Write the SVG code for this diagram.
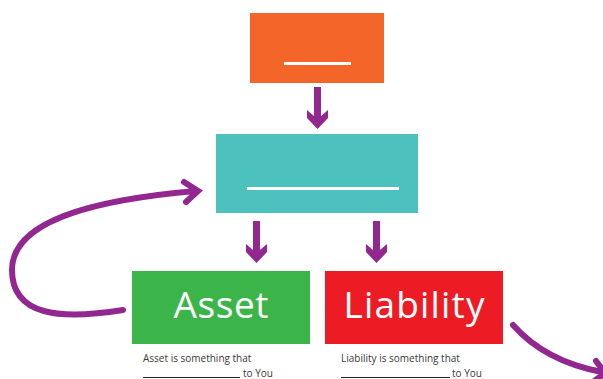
<svg xmlns="http://www.w3.org/2000/svg" width="603" height="379" viewBox="0 0 603 379">
<style>
.box-label{font-family:"Open Sans","Noto Sans",sans-serif;font-size:37px;fill:#ffffff;text-anchor:middle}
.note{font-family:"Open Sans","Noto Sans",sans-serif;font-size:10px;fill:#3a3a3a}
.blank{stroke:#ffffff;stroke-width:3}
.uline{stroke:#222222;stroke-width:1}
.curve{fill:none;stroke:#92278f;stroke-width:6;stroke-linecap:round;stroke-linejoin:miter}
.arrow{fill:#92278f}
</style>
<rect width="603" height="379" fill="#ffffff"/>
<g id="top">
<rect x="250" y="13" width="134" height="70" fill="#f4652a"/>
<line class="blank" x1="284" y1="63.5" x2="351" y2="63.5"/>
</g>
<g id="middle">
<rect x="216" y="134" width="202" height="79" fill="#4cc1bd"/>
<line class="blank" x1="247" y1="188.5" x2="399" y2="188.5"/>
</g>
<g id="asset">
<rect x="132" y="271" width="178" height="73" fill="#3bb54a"/>
<text class="box-label" x="221" y="318" textLength="95" lengthAdjust="spacing">Asset</text>
<text class="note" x="143" y="362">Asset is something that</text>
<line class="uline" x1="143" y1="377.5" x2="240" y2="377.5"/>
<text class="note" x="243" y="377">to You</text>
</g>
<g id="liability">
<rect x="325" y="271" width="178" height="73" fill="#ed1c24"/>
<text class="box-label" x="414" y="318" textLength="141" lengthAdjust="spacing">Liability</text>
<text class="note" x="341" y="362">Liability is something that</text>
<line class="uline" x1="341" y1="377.5" x2="450" y2="377.5"/>
<text class="note" x="452" y="377">to You</text>
</g>
<g id="connectors">
<polygon class="arrow" points="314,87 321,87 321,116 328,110 328,118 317.5,129 307,118 307,110 314,116"/>
<polygon class="arrow" points="253,221 260,221 260,250 267,244 267,252 256.5,263 246,252 246,244 253,250"/>
<polygon class="arrow" points="373,221 380,221 380,250 387,244 387,252 376.5,263 366,252 366,244 373,250"/>
<path class="curve" d="M123,310 C60,320 12,316 12,270 C12,222 90,200 196,191"/>
<path class="curve" d="M184,182 L198,191 L186,202"/>
<path class="curve" d="M513,325 C535,350 565,365 602,372"/>
<path class="curve" d="M596,361 L605,373 L593,382"/>
</g>
</svg>
